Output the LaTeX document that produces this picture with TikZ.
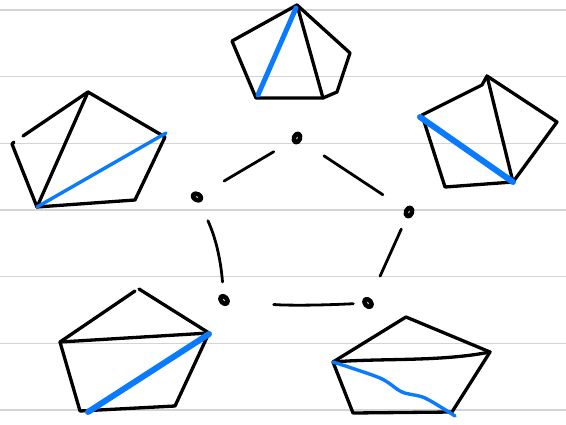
\documentclass[tikz,border=0pt]{standalone}
\usetikzlibrary{shapes.geometric}
\definecolor{penblue}{RGB}{10,122,255}
\definecolor{rulegray}{RGB}{212,212,212}
\begin{document}
\begin{tikzpicture}[x=1pt,y=-1pt, line cap=round, line join=round,
  pen/.style={line width=3.3pt},
  blueline/.style={penblue,line width=3.4pt},
  bluethick/.style={penblue,line width=6pt},
  ruleline/.style={rulegray,line width=1.3pt},
  vert/.style={ellipse,draw,line width=4.5pt,minimum width=6pt,minimum height=9pt,inner sep=0pt},
  link/.style={line width=2.8pt}]
\fill[white] (0,0) rectangle (566,424);
\useasboundingbox (0,0) rectangle (566,424);
\foreach \y in {10,76.7,143.3,210,276.7,343.3,410} \draw[ruleline] (0,\y) -- (566,\y);

% top pentagon
\draw[pen] (297,5) -- (350,53) -- (337,92) -- (323,98) -- (256,98) -- (232,41) -- cycle;
\draw[pen] (297,5) -- (323,98);
\draw[bluethick, line width=5pt] (296,8) -- (258,95);

% left pentagon
\draw[pen] (23,136) -- (88,92) -- (165,137) -- (135,200) -- (37,207) -- (12,144) -- (14,142);
\draw[pen] (88,92) -- (37,207);
\draw[blueline] (37,207) -- (166,133);

% right pentagon
\draw[pen] (487,76) -- (557,122) -- (513,182) -- (445,187) -- (422,115) -- (482,85) -- cycle;
\draw[pen] (487,76) -- (513,182);
\draw[bluethick] (420,117) -- (513,182);

% bottom-left pentagon
\draw[pen] (139,289) -- (209,333) -- (175,406) -- (80,411) -- (60,342) -- (135,291);
\draw[pen] (60,342) -- (209,333);
\draw[bluethick] (209,334) -- (88,412);

% bottom-right pentagon
\draw[pen] (406,317) -- (490,352) -- (452,412) -- (353,413) -- (333,362) -- cycle;
\draw[pen] (333,362) .. controls (380,358) and (440,362) .. (490,352);
\draw[blueline] plot[smooth] coordinates {(333,362) (380,378) (402,392) (425,398) (455,416)};

% flip graph vertices
\node[vert,rotate=-20] (t)  at (297,138) {};
\node[vert,rotate=60]  (l)  at (197,197) {};
\node[vert,rotate=-20] (r)  at (409,212) {};
\node[vert,rotate=40]  (bl) at (224,300) {};
\node[vert,rotate=40]  (br) at (368,303) {};

% connectors
\draw[link,shorten <=21pt,shorten >=26pt] (t) -- (l);
\draw[link,shorten <=27pt,shorten >=26pt] (t) -- (r);
\draw[link,shorten <=12pt,shorten >=24pt] (r) -- (br);
\draw[link,shorten <=44pt,shorten >=9pt] (bl) to[bend right=4] (br);
\draw[link,shorten <=20pt,shorten >=12pt] (l) to[bend left=10] (bl);
\end{tikzpicture}
\end{document}
